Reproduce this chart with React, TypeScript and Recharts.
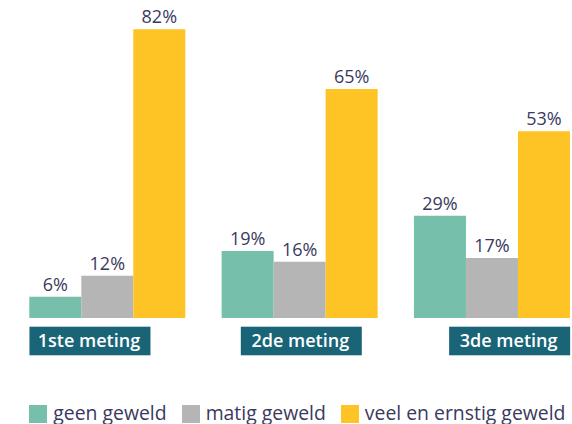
import React from 'react';
import { BarChart, Bar, XAxis, YAxis, Legend, LabelList } from 'recharts';

const categories = ['1ste meting', '2de meting', '3de meting'];
const geenGeweld = [6, 19, 29];
const matigGeweld = [12, 16, 17];
const veelErnstigGeweld = [82, 65, 53];
const seriesNames = ['geen geweld', 'matig geweld', 'veel en ernstig geweld'];

const COLORS = ['#76c0ab', '#b5b5b5', '#fec426'];
const BOX_COLOR = '#196476';
const TEXT_COLOR = '#3a3a5e';
const FONT = '"Open Sans", sans-serif';

const data = categories.map((name, i) => ({
  name,
  geen: geenGeweld[i],
  matig: matigGeweld[i],
  veel: veelErnstigGeweld[i],
}));

const BOX_W = 121;
const BOX_H = 28.6;
const BOX_ALIGN = ['start', 'middle', 'end'];
const GROUP_HALF = 78;

const CategoryTick = (props: any) => {
  const { x, y, payload, index } = props;
  const align = BOX_ALIGN[index] || 'middle';
  let left = x - BOX_W / 2 + 1.5;
  if (align === 'start') left = x - GROUP_HALF;
  if (align === 'end') left = x + GROUP_HALF - BOX_W;
  const top = y + 8.7;
  return (
    <g>
      <rect x={left} y={top} width={BOX_W} height={BOX_H} fill={BOX_COLOR} />
      <text
        x={left + BOX_W / 2 - 1}
        y={top + 20.6}
        textAnchor="middle"
        fill="#ffffff"
        fontFamily={FONT}
        fontWeight={600}
        fontSize={18}
      >
        {payload.value}
      </text>
    </g>
  );
};

const LegendContent = () => (
  <div
    style={{
      display: 'flex',
      alignItems: 'center',
      height: 26,
      paddingLeft: 21.3,
      fontFamily: FONT,
      fontSize: 19.4,
      color: TEXT_COLOR,
      whiteSpace: 'nowrap',
      position: 'relative',
      top: 3,
    }}
  >
    {seriesNames.map((n, i) => (
      <div key={n} style={{ display: 'flex', alignItems: 'center', marginRight: 15 }}>
        <div style={{ width: 18, height: 18, background: COLORS[i], marginRight: 6 }} />
        <span style={{ position: 'relative', top: -2 }}>{n}</span>
      </div>
    ))}
  </div>
);

const fmt = (v: any) => `${v}%`;

export default function App() {
  return (
    <div style={{ position: 'absolute', top: 0, left: 8, width: 564, height: 424 }}>
      <BarChart
        width={564}
        height={424}
        data={data}
        margin={{ top: 8, right: 0, bottom: 0, left: 0 }}
        barGap={0}
        barSize={52}
      >
        <XAxis
          dataKey="name"
          axisLine={false}
          tickLine={false}
          tickSize={0}
          tickMargin={0}
          interval={0}
          height={80}
          padding={{ left: 3.3, right: -16.3 }}
          tick={<CategoryTick />}
        />
        <YAxis hide domain={[0, 88]} />
        <Legend
          verticalAlign="bottom"
          height={26}
          content={<LegendContent />}
          wrapperStyle={{ left: 0, width: 564 }}
        />
        <Bar dataKey="geen" name={seriesNames[0]} fill={COLORS[0]} isAnimationActive={false}>
          <LabelList dataKey="geen" position="top" offset={6} formatter={fmt} fill={TEXT_COLOR} fontSize={18} fontFamily={FONT} />
        </Bar>
        <Bar dataKey="matig" name={seriesNames[1]} fill={COLORS[1]} isAnimationActive={false}>
          <LabelList dataKey="matig" position="top" offset={6} formatter={fmt} fill={TEXT_COLOR} fontSize={18} fontFamily={FONT} />
        </Bar>
        <Bar dataKey="veel" name={seriesNames[2]} fill={COLORS[2]} isAnimationActive={false}>
          <LabelList dataKey="veel" position="top" offset={6} formatter={fmt} fill={TEXT_COLOR} fontSize={18} fontFamily={FONT} />
        </Bar>
      </BarChart>
    </div>
  );
}
